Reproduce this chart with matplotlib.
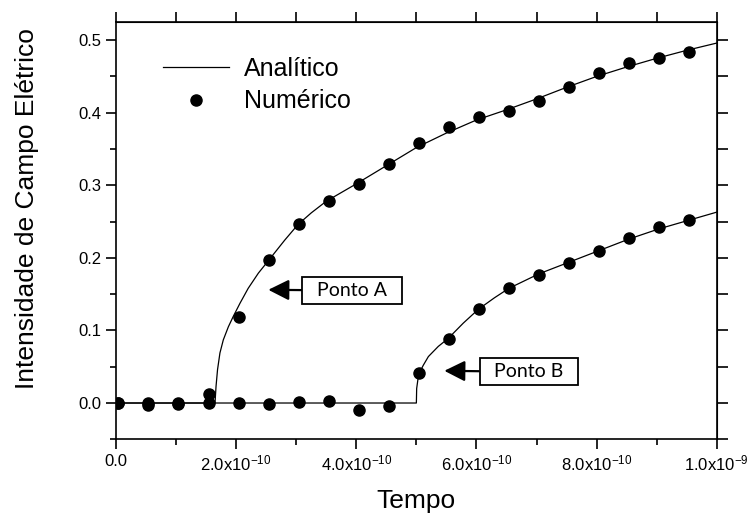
import matplotlib
matplotlib.use("Agg")
import matplotlib.pyplot as plt
from matplotlib.ticker import MultipleLocator, FixedLocator, FixedFormatter

plt.rcParams['font.family'] = ['Liberation Sans', 'DejaVu Sans']
plt.rcParams['mathtext.fontset'] = 'custom'
plt.rcParams['mathtext.rm'] = 'Liberation Sans'
plt.rcParams['mathtext.it'] = 'Liberation Sans'

# analytic curves (time in units of 1e-10 s)
t_anal_a = [0, 1.648, 1.665, 1.69, 1.73, 1.786, 1.87, 1.95, 2.064, 2.20, 2.37, 2.535,
            2.81, 3.03, 3.25, 3.5, 3.75, 4.0, 4.5, 5.0, 5.5, 6.0, 6.5, 7.0, 7.5, 8.0,
            8.5, 9.0, 9.5, 10.0]
e_anal_a = [0, 0, 0.023, 0.046, 0.069, 0.087, 0.105, 0.119, 0.1375, 0.158, 0.179, 0.196,
            0.2246, 0.246, 0.262, 0.278, 0.290, 0.302, 0.327, 0.352, 0.372, 0.390, 0.404,
            0.419, 0.435, 0.450, 0.463, 0.475, 0.486, 0.496]
t_anal_b = [0, 5.0, 5.005, 5.03, 5.06, 5.115, 5.2, 5.365, 5.53, 5.78, 6.03, 6.3, 6.54,
            7.04, 7.54, 8.04, 8.54, 9.04, 9.54, 10.0]
e_anal_b = [0, 0, 0.02, 0.035, 0.043, 0.052, 0.064, 0.078, 0.089, 0.110, 0.129, 0.145,
            0.158, 0.178, 0.194, 0.210, 0.226, 0.240, 0.252, 0.263]

# numeric samples
t_num = [0.04, 0.54, 1.04, 1.54, 2.04, 2.54, 3.04, 3.54, 4.04, 4.54,
         5.04, 5.54, 6.04, 6.54, 7.04, 7.54, 8.04, 8.54, 9.04, 9.54]
e_num_a = [0.0, 0.0, 0.0, 0.013, 0.119, 0.197, 0.247, 0.278, 0.302, 0.329,
           0.358, 0.381, 0.394, 0.403, 0.416, 0.4355, 0.455, 0.468, 0.476, 0.484]
e_num_b = [0.0, -0.003, -0.001, 0.0, 0.0, -0.001, 0.001, 0.003, -0.010, -0.004,
           0.041, 0.0886, 0.130, 0.158, 0.177, 0.193, 0.210, 0.228, 0.242, 0.2526]

xtick_vals = [0, 2e-10, 4e-10, 6e-10, 8e-10, 1e-9]
xtick_labels = ['0.0', r'2.0x10$^{\mathregular{-10}}$', r'4.0x10$^{\mathregular{-10}}$',
                r'6.0x10$^{\mathregular{-10}}$', r'8.0x10$^{\mathregular{-10}}$',
                r'1.0x10$^{\mathregular{-9}}$']

scale = 1e-10

fig = plt.figure(figsize=(7.49, 5.17), dpi=100)
ax = fig.add_axes([0.1549, 0.1503, 0.8020, 0.8071])

ax.plot([t * scale for t in t_anal_a], e_anal_a, color='black', lw=0.9, label='Analítico')
ax.plot([t * scale for t in t_anal_b], e_anal_b, color='black', lw=0.9)
ax.plot([t * scale for t in t_num], e_num_a, 'o', color='black', ms=8, label='Numérico')
ax.plot([t * scale for t in t_num], e_num_b, 'o', color='black', ms=8)

ax.set_xlim(0, 1e-9)
ax.set_ylim(-0.05, 0.525)

ax.xaxis.set_major_locator(FixedLocator(xtick_vals))
ax.xaxis.set_major_formatter(FixedFormatter(xtick_labels))
ax.xaxis.set_minor_locator(MultipleLocator(1e-10))
ax.yaxis.set_major_locator(MultipleLocator(0.1))
ax.yaxis.set_minor_locator(MultipleLocator(0.05))
ax.yaxis.set_major_formatter(plt.FuncFormatter(lambda v, p: '%.1f' % v))

ax.tick_params(which='both', direction='out', width=1.2, labelsize=12)
ax.tick_params(which='major', length=7)
ax.tick_params(which='minor', length=4)
for s in ax.spines.values():
    s.set_linewidth(1.2)

# ticks on top and right, no labels
top = ax.secondary_xaxis('top')
top.xaxis.set_major_locator(MultipleLocator(1e-10))
top.tick_params(direction='out', length=7, width=1.2, labeltop=False)
right = ax.secondary_yaxis('right')
right.yaxis.set_major_locator(MultipleLocator(0.05))
right.tick_params(direction='out', length=8, width=1.2, labelright=False)

ax.set_xlabel('Tempo', fontsize=19, labelpad=11)
ax.set_ylabel('Intensidade de Campo Elétrico', fontsize=19)
ax.yaxis.set_label_coords(-0.128, 0.554)

ax.legend(loc='upper left', bbox_to_anchor=(0.04, 0.97), frameon=False, fontsize=18,
          handlelength=2.64, handletextpad=0.6, labelspacing=0.33, numpoints=1)

box = dict(boxstyle='square,pad=0.25', fc='white', ec='black', lw=1.3)
arrow = dict(arrowstyle='-|>,head_length=0.9,head_width=0.45', color='black', lw=1.6,
             shrinkA=0, shrinkB=0)
ax.annotate('  Ponto A  ', xy=(2.535e-10, 0.156), xytext=(3.93e-10, 0.155),
            fontsize=14, family=['Lato', 'DejaVu Sans'], ha='center', va='center',
            bbox=box, arrowprops=arrow)
ax.annotate('  Ponto B  ', xy=(5.465e-10, 0.0444), xytext=(6.875e-10, 0.043),
            fontsize=14, family=['Lato', 'DejaVu Sans'], ha='center', va='center',
            bbox=box, arrowprops=arrow)

fig.savefig('out.png', dpi=100)
